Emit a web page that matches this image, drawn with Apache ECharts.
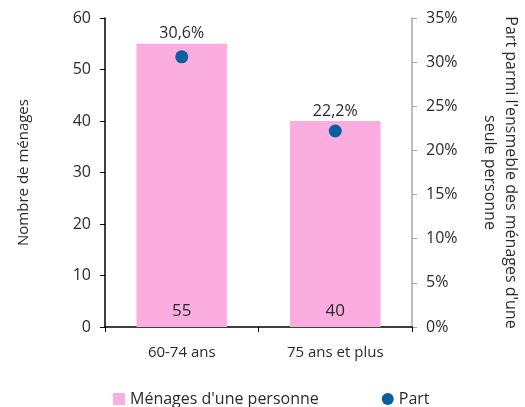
<!DOCTYPE html>
<html>
<head>
<meta charset="utf-8">
<script src="https://cdn.jsdelivr.net/npm/echarts@6/dist/echarts.min.js"></script>
<style>
  html, body { margin: 0; padding: 0; background: #fff; }
  #chart { width: 525px; height: 407px; }
</style>
</head>
<body>
<div id="chart"></div>
<script>
// Households of one person by age group, with share among all one-person households.
const categories = ["60-74 ans", "75 ans et plus"];
const menages = [55, 40];
const part = [30.6, 22.2];

const FONT = "Open Sans";
const TXT = "#2b2b2b";

function pct(v) {
  return v.toFixed(1).replace(".", ",") + "%";
}

const chart = echarts.init(document.getElementById("chart"), null, { renderer: "canvas" });

chart.setOption({
  animation: false,
  textStyle: { fontFamily: FONT },
  grid: { left: 105, right: 113, top: 18, bottom: 80, outerBoundsMode: "none", containLabel: false },
  legend: {
    top: 386,
    left: 108,
    itemGap: 63,
    itemWidth: 12,
    itemHeight: 12,
    textStyle: { color: TXT, fontSize: 16, fontFamily: FONT },
    data: [
      { name: "Ménages d'une personne", icon: "rect" },
      { name: "Part", icon: "circle" },
    ],
  },
  xAxis: {
    type: "category",
    data: categories,
    axisLine: { lineStyle: { color: "#000", width: 1.5 } },
    axisTick: { show: true, length: 5, lineStyle: { color: "#000" } },
    axisLabel: { color: TXT, fontSize: 15, margin: 18 },
  },
  yAxis: [
    {
      type: "value",
      min: 0,
      max: 60,
      interval: 10,
      name: "Nombre de ménages",
      nameLocation: "middle",
      nameGap: 74,
      nameTextStyle: { color: TXT, fontSize: 15 },
      axisLine: { show: true, lineStyle: { color: "#000", width: 1.5 } },
      axisTick: { show: true, length: 5, lineStyle: { color: "#000" } },
      axisLabel: { color: TXT, fontSize: 16, margin: 14 },
      splitLine: { show: false },
    },
    {
      type: "value",
      min: 0,
      max: 35,
      interval: 5,
      position: "right",
      name: "Part parmi l'ensmeble des ménages d'une\nseule personne",
      nameLocation: "middle",
      nameRotate: -90,
      nameGap: 67,
      nameTextStyle: { color: TXT, fontSize: 16, lineHeight: 21 },
      axisLine: { show: true, lineStyle: { color: "#a6a6a6", width: 1.5 } },
      axisTick: { show: true, length: 5, lineStyle: { color: "#a6a6a6" } },
      axisLabel: { color: TXT, fontSize: 16, margin: 14, formatter: (v) => v + "%" },
      splitLine: { show: false },
    },
  ],
  series: [
    {
      name: "Ménages d'une personne",
      type: "bar",
      data: menages,
      barWidth: "59%",
      itemStyle: { color: "#fbade0" },
      label: {
        show: true,
        position: "top",
        distance: 2,
        color: TXT,
        fontSize: 16,
        formatter: (p) => pct(part[p.dataIndex]),
      },
      z: 2,
    },
    {
      // overlay carrying the count label at the foot of each bar
      name: "count",
      type: "bar",
      data: menages,
      barWidth: "59%",
      barGap: "-100%",
      itemStyle: { color: "transparent" },
      label: {
        show: true,
        position: "insideBottom",
        distance: 7,
        color: TXT,
        fontSize: 17,
      },
      silent: true,
      z: 3,
    },
    {
      name: "Part",
      type: "scatter",
      yAxisIndex: 1,
      data: part,
      symbolSize: 13,
      itemStyle: { color: "#0460a0", opacity: 1 },
      z: 5,
    },
  ],
});
</script>
</body>
</html>
